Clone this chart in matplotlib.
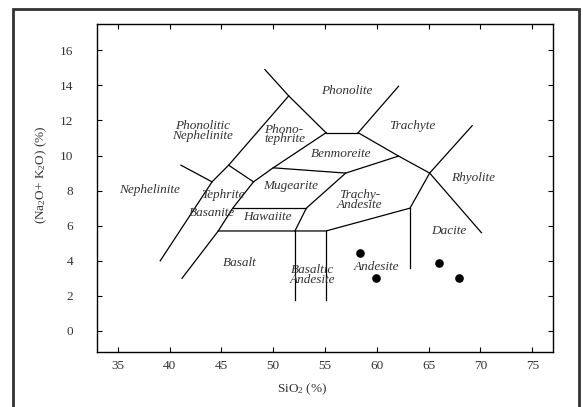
# TAS diagram (total alkali vs silica) with four sample points
import matplotlib
matplotlib.use("Agg")
from matplotlib import pyplot as plt
from matplotlib.patches import Rectangle

plt.rcParams['font.family'] = ['Liberation Serif', 'DejaVu Serif']
plt.rcParams['mathtext.fontset'] = 'custom'
plt.rcParams['mathtext.rm'] = 'Liberation Serif'
plt.rcParams['mathtext.it'] = 'Liberation Serif:italic'

# field boundaries, each one a polyline (SiO2, Na2O+K2O)
b_phonolite_x = [49.2, 51.5, 55.1]
b_phonolite_y = [14.9, 13.4, 11.3]
b_trachyte_x = [58.2, 62.1]
b_trachyte_y = [11.3, 13.95]
b_top_x = [55.1, 58.2]
b_top_y = [11.3, 11.3]
b_rhyo_dac_x = [58.2, 62.1, 65.1, 70.1]
b_rhyo_dac_y = [11.3, 9.97, 9.0, 5.6]
b_rhyolite_x = [63.2, 65.1, 69.2]
b_rhyolite_y = [7.0, 9.0, 11.7]
b_left_x = [39.1, 44.1, 45.7, 51.5]
b_left_y = [4.0, 8.5, 9.45, 13.4]
b_neph_x = [41.1, 44.1]
b_neph_y = [9.45, 8.5]
b_tephrite_x = [45.7, 48.1]
b_tephrite_y = [9.45, 8.5]
b_basanite_x = [41.2, 44.7, 46.1, 48.1]
b_basanite_y = [3.0, 5.7, 7.0, 8.5]
b_phonoteph_x = [48.1, 50.0, 55.1]
b_phonoteph_y = [8.5, 9.3, 11.3]
b_mugearite_x = [50.0, 57.0, 62.1]
b_mugearite_y = [9.3, 9.0, 9.97]
b_trachyand_x = [57.0, 53.2, 52.1]
b_trachyand_y = [9.0, 7.0, 5.7]
b_hawaiite_x = [46.1, 53.2]
b_hawaiite_y = [7.0, 7.0]
b_basalt_x = [44.7, 55.1, 63.2]
b_basalt_y = [5.7, 5.7, 7.0]
b_v1_x = [52.1, 52.1]
b_v1_y = [5.7, 1.77]
b_v2_x = [55.1, 55.1]
b_v2_y = [5.7, 1.77]
b_v3_x = [63.2, 63.2]
b_v3_y = [7.0, 3.6]

boundaries = [
    (b_phonolite_x, b_phonolite_y), (b_trachyte_x, b_trachyte_y),
    (b_top_x, b_top_y), (b_rhyo_dac_x, b_rhyo_dac_y),
    (b_rhyolite_x, b_rhyolite_y), (b_left_x, b_left_y),
    (b_neph_x, b_neph_y), (b_tephrite_x, b_tephrite_y),
    (b_basanite_x, b_basanite_y), (b_phonoteph_x, b_phonoteph_y),
    (b_mugearite_x, b_mugearite_y), (b_trachyand_x, b_trachyand_y),
    (b_hawaiite_x, b_hawaiite_y), (b_basalt_x, b_basalt_y),
    (b_v1_x, b_v1_y), (b_v2_x, b_v2_y), (b_v3_x, b_v3_y),
]

# field names and where they sit
field_names = ["Phonolite", "Trachyte", "Benmoreite", "Rhyolite",
               "Phonolitic\nNephelinite", "Phono-\ntephrite", "Nephelinite",
               "Tephrite", "Mugearite", "Basanite", "Hawaiite", "Basalt",
               "Basaltic\nAndesite", "Andesite", "Dacite", "Trachy-\nAndesite"]
field_x = [57.1, 63.4, 56.55, 69.3, 43.2, 51.1, 38.1, 45.1, 51.7, 44.1,
           49.4, 46.8, 53.8, 60.0, 66.9, 58.3]
field_y = [13.7, 11.7, 10.1, 8.7, 11.4, 11.2, 8.05, 7.75, 8.25, 6.7,
           6.5, 3.9, 3.2, 3.65, 5.7, 7.45]

# samples
sio2 = [58.4, 59.95, 66.0, 67.9]
alkali = [4.44, 3.0, 3.87, 3.0]

xticks = [35, 40, 45, 50, 55, 60, 65, 70, 75]
yticks = [0, 2, 4, 6, 8, 10, 12, 14, 16]

fig = plt.figure(figsize=(5.83, 4.07), dpi=100)
ax = fig.add_axes([0.1664, 0.1351, 0.7821, 0.806])

# outer frame
fig.patches.append(Rectangle((0.0223, -0.05), 0.971, 1.028, transform=fig.transFigure,
                             fill=False, edgecolor='#333333', linewidth=2.0))

for bx, by in boundaries:
    ax.plot(bx, by, color='black', linewidth=0.9)

for name, tx, ty in zip(field_names, field_x, field_y):
    ax.text(tx, ty, name, ha='center', va='center', style='italic',
            fontsize=9.5, color='#333333', linespacing=0.75,
            multialignment='left' if name.startswith('Phono-') else 'center')

ax.plot(sio2, alkali, 'o', color='black', markersize=5.2, linestyle='none')

ax.set_xlim(33, 77)
ax.set_ylim(-1.2, 17.5)
ax.set_xticks(xticks)
ax.set_yticks(yticks)
ax.tick_params(direction='in', length=3.6, width=0.8, top=True, right=True,
               labelsize=9.5, labelcolor='#333333')
ax.tick_params(axis='y', pad=17)
ax.tick_params(axis='x', pad=6)
for sp in ax.spines.values():
    sp.set_linewidth(1.0)

ax.set_xlabel(r'SiO$_2$ (%)', fontsize=9.5, color='#333333')
ax.xaxis.set_label_coords(0.45, -0.09)
ax.set_ylabel(r'(Na$_2$O+ K$_2$O) (%)', fontsize=9.5, color='#333333')
ax.yaxis.set_label_coords(-0.105, 0.54)

fig.savefig('out.png', dpi=100)
